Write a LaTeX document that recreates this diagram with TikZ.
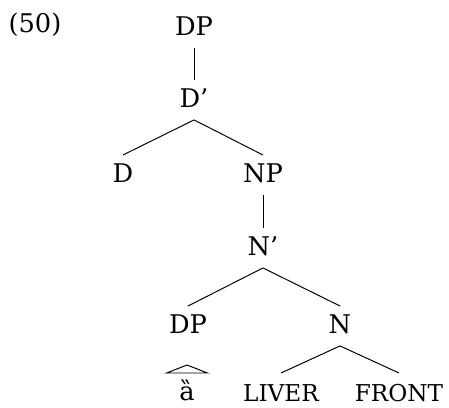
\documentclass[tikz,border=0pt]{standalone}
\usepackage{fontspec}
\setmainfont{DejaVu Serif}

\begin{document}
\begin{tikzpicture}[
  lab/.style={inner sep=0pt, anchor=base, text height=19pt, text depth=9pt, font=\fontsize{18.3}{22}\selectfont},
  leaf/.style={inner sep=0pt, anchor=base, text height=20pt, text depth=0pt, font=\fontsize{16.5}{20}\selectfont},
  branch/.style={line width=0.7pt},
  roof/.style={line width=0.7pt, line join=miter}
]
\useasboundingbox (0,0) rectangle (11.225,10.175);
\node[lab] (ex) at (0.875,9.375) {(50)};
\node[lab] (dp) at (4.85,9.3) {DP};
\node[lab] (dbar) at (4.85,7.5) {D’};
\node[lab] (d) at (3.075,5.625) {D};
\node[lab] (np) at (6.575,5.625) {NP};
\node[lab] (nbar) at (6.575,3.8) {N’};
\node[lab] (dpl) at (4.7,1.85) {DP};
\node[lab] (n) at (8.5,1.85) {N};
\node[leaf, font=\fontsize{18.3}{22}\selectfont] (aa) at (4.675,0.16) {ȁ};
\node[leaf] (liver) at (7.025,0.14) {LIVER};
\node[leaf] (front) at (9.975,0.14) {FRONT};
\draw[branch] (dp.south) -- (dbar.north);
\draw[branch] (dbar.south) -- (d.north);
\draw[branch] (dbar.south) -- (np.north);
\draw[branch] (np.south) -- (nbar.north);
\draw[branch] (nbar.south) -- (dpl.north);
\draw[branch] (nbar.south) -- (n.north);
\draw[branch] (n.south) -- (liver.north);
\draw[branch] (n.south) -- (front.north);
\draw[roof] ([xshift=-0.51cm,yshift=0.69cm]aa.base) -- ([yshift=0.89cm]aa.base) -- ([xshift=0.51cm,yshift=0.69cm]aa.base) -- cycle;
\end{tikzpicture}
\end{document}
